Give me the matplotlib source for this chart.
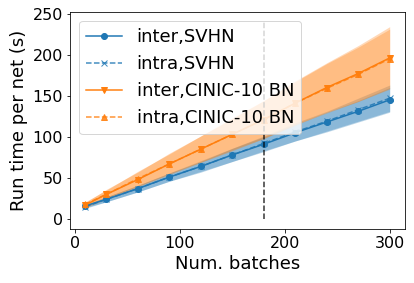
import matplotlib
matplotlib.use('Agg')
import matplotlib.pyplot as plt

# number of batches
batches = [10, 30, 60, 90, 120, 150, 180, 210, 240, 270, 300]

# run time per net (s), mean and spread
inter_svhn = [16, 24, 37, 51, 64, 78, 91, 105, 118, 131, 145]
inter_svhn_std = [2, 3, 4, 5, 6, 8, 9, 10, 12, 13, 15]
intra_svhn = [15, 24, 37, 51, 64, 78, 92, 106, 119, 133, 147]
intra_svhn_std = [2, 3, 4, 5, 7, 8, 9, 11, 12, 14, 16]
inter_cinic = [17, 30, 48, 67, 85, 103, 121, 141, 160, 177, 196]
inter_cinic_std = [3, 6, 9, 13, 16, 20, 23, 27, 30, 34, 38]
intra_cinic = [18, 30, 49, 67, 85, 103, 121, 141, 159, 176, 195]
intra_cinic_std = [3, 5, 9, 12, 16, 19, 23, 26, 30, 33, 36]

cutoff = 180
cutoff_top = 240

plt.rcParams['font.size'] = 16

fig = plt.figure(figsize=(4.14 / 0.72, 2.83 / 0.72), dpi=72)
ax = fig.add_axes([0.169, 0.191, 0.809, 0.767])

series = [
    ("inter,SVHN", inter_svhn, inter_svhn_std, 'C0', 'o', '-'),
    ("intra,SVHN", intra_svhn, intra_svhn_std, 'C0', 'x', '--'),
    ("inter,CINIC-10 BN", inter_cinic, inter_cinic_std, 'C1', 'v', '-'),
    ("intra,CINIC-10 BN", intra_cinic, intra_cinic_std, 'C1', '^', '--'),
]

for label, mean, std, color, marker, ls in series:
    lo = [m - s for m, s in zip(mean, std)]
    hi = [m + s for m, s in zip(mean, std)]
    ax.fill_between(batches, lo, hi, color=color, alpha=0.3, lw=0)
    ax.plot(batches, mean, color=color, marker=marker, linestyle=ls,
            label=label, alpha=0.85 if ls == '--' else 1.0)

ax.plot([cutoff, cutoff], [0, cutoff_top], 'k--', lw=1.5, alpha=0.8)

ax.set_xlabel("Num. batches", fontsize=18)
ax.set_ylabel("Run time per net (s)", fontsize=18)
ax.set_xticks([0, 100, 200, 300])
ax.set_yticks([0, 50, 100, 150, 200, 250])
ax.legend(loc='upper left', fontsize=18)

fig.savefig("out.png", dpi=72)
